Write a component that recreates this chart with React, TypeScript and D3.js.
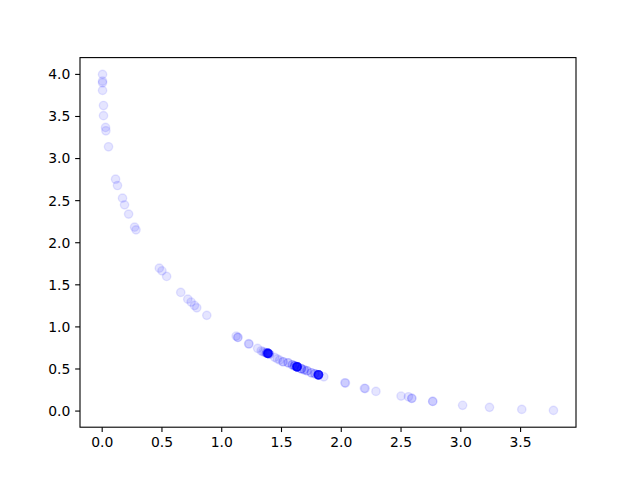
import React from "react";
import * as d3 from "d3";

const xValues: number[] = [
  0.003, 0.003, 0.003, 0.003, 0.011, 0.011, 0.028, 0.031, 0.053, 0.112,
  0.128, 0.17, 0.187, 0.221, 0.271, 0.283, 0.478, 0.5, 0.539, 0.657,
  0.716, 0.744, 0.772, 0.791, 0.875, 1.121, 1.135, 1.135, 1.225, 1.228,
  1.3, 1.33, 1.345, 1.36, 1.375, 1.375, 1.375,
  1.387, 1.387, 1.387, 1.387, 1.387, 1.387, 1.387, 1.387,
  1.387, 1.387, 1.387, 1.387, 1.387, 1.387,
  1.4, 1.4, 1.443, 1.465, 1.485, 1.513, 1.513, 1.555, 1.555, 1.59, 1.59,
  1.61, 1.61, 1.61,
  1.63, 1.63, 1.63, 1.63, 1.63, 1.63, 1.63, 1.63,
  1.63, 1.63, 1.63, 1.63, 1.63, 1.63, 1.63, 1.63,
  1.666, 1.666, 1.666, 1.69, 1.69, 1.714, 1.714, 1.75, 1.75, 1.78, 1.78,
  1.809, 1.809, 1.809, 1.809, 1.809, 1.809, 1.809, 1.809,
  1.809, 1.809, 1.809, 1.809, 1.809, 1.809,
  1.854, 2.03, 2.035, 2.193, 2.2, 2.29, 2.5, 2.562, 2.59, 2.59,
  2.765, 2.765, 3.015, 3.24, 3.51, 3.775,
];

const yValues: number[] = [
  4.0, 3.92, 3.9, 3.81, 3.63, 3.51, 3.37, 3.33, 3.14, 2.755,
  2.68, 2.53, 2.45, 2.34, 2.185, 2.153, 1.698, 1.666, 1.6, 1.41,
  1.33, 1.295, 1.255, 1.227, 1.137, 0.891, 0.875, 0.875, 0.8, 0.797,
  0.745, 0.716, 0.705, 0.697, 0.69, 0.69, 0.69,
  0.685, 0.685, 0.685, 0.685, 0.685, 0.685, 0.685, 0.685,
  0.685, 0.685, 0.685, 0.685, 0.685, 0.685,
  0.676, 0.676, 0.638, 0.62, 0.606, 0.586, 0.586, 0.574, 0.574, 0.55, 0.55,
  0.538, 0.538, 0.538,
  0.526, 0.526, 0.526, 0.526, 0.526, 0.526, 0.526, 0.526,
  0.526, 0.526, 0.526, 0.526, 0.526, 0.526, 0.526, 0.526,
  0.503, 0.503, 0.503, 0.49, 0.49, 0.479, 0.479, 0.455, 0.455, 0.443, 0.443,
  0.431, 0.431, 0.431, 0.431, 0.431, 0.431, 0.431, 0.431,
  0.431, 0.431, 0.431, 0.431, 0.431, 0.431,
  0.407, 0.336, 0.333, 0.27, 0.268, 0.234, 0.178, 0.17, 0.151, 0.151,
  0.115, 0.115, 0.068, 0.044, 0.02, 0.008,
];

const xTicks: number[] = [0, 0.5, 1, 1.5, 2, 2.5, 3, 3.5];
const yTicks: number[] = [0, 0.5, 1, 1.5, 2, 2.5, 3, 3.5, 4];

const W = 640;
const H = 480;
const L = 80;
const R = 576;
const T = 57.6;
const B = 427.2;

export default function App() {
  const xMin = d3.min(xValues) as number;
  const xMax = d3.max(xValues) as number;
  const yMin = d3.min(yValues) as number;
  const yMax = d3.max(yValues) as number;
  const xm = (xMax - xMin) * 0.05;
  const ym = (yMax - yMin) * 0.05;
  const x = d3.scaleLinear().domain([xMin - xm, xMax + xm]).range([L, R]);
  const y = d3.scaleLinear().domain([yMin - ym, yMax + ym]).range([B, T]);
  const fmt = d3.format(".1f");
  const font = "'DejaVu Sans', sans-serif";
  const tick = 4.86;
  return (
    <svg
      width={W}
      height={H}
      style={{ position: "absolute", left: 0, top: 0, background: "#fff" }}
    >
      <rect x={0} y={0} width={W} height={H} fill="#fff" />
      <g>
        {xValues.map((xv, i) => (
          <circle
            key={i}
            cx={x(xv)}
            cy={y(yValues[i])}
            r={4.17}
            fill="rgba(0,0,255,0.1)"
            stroke="rgba(0,0,255,0.1)"
            strokeWidth={1.39}
          />
        ))}
      </g>
      <rect
        x={L}
        y={T}
        width={R - L}
        height={B - T}
        fill="none"
        stroke="#000"
        strokeWidth={1.1}
      />
      {xTicks.map((t) => (
        <g key={"x" + t}>
          <line x1={x(t)} x2={x(t)} y1={B} y2={B + tick} stroke="#000" strokeWidth={1.1} />
          <text
            x={x(t)}
            y={B + tick + 4.86 + 10.5}
            fontSize={13.9}
            fontFamily={font}
            textAnchor="middle"
            fill="#000"
          >
            {fmt(t)}
          </text>
        </g>
      ))}
      {yTicks.map((t) => (
        <g key={"y" + t}>
          <line x1={L - tick} x2={L} y1={y(t)} y2={y(t)} stroke="#000" strokeWidth={1.1} />
          <text
            x={L - tick - 4.86}
            y={y(t)}
            dy="0.35em"
            fontSize={13.9}
            fontFamily={font}
            textAnchor="end"
            fill="#000"
          >
            {fmt(t)}
          </text>
        </g>
      ))}
    </svg>
  );
}
